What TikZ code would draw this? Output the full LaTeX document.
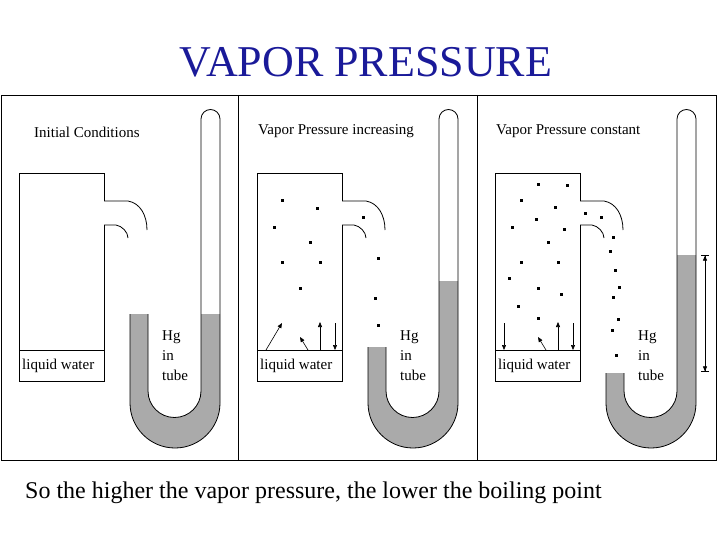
\documentclass[tikz,border=0pt]{standalone}
\usepackage{fontspec}
\setmainfont{Liberation Serif}
\usetikzlibrary{arrows.meta}
\definecolor{hg}{HTML}{AAAAAA}
\definecolor{ttl}{HTML}{1A1A99}
\newcommand\apparatus[4]{%
\begin{scope}[xshift=#1pt]
\fill[hg] (130,#2) -- (130,403) arc[start angle=180,end angle=0,radius=45] -- (220,#3) -- (201,#3) -- (201,391) arc[start angle=0,end angle=180,radius=26.5] -- (148,#2) -- cycle;
\draw[line] (130,#2) -- (130,403) arc[start angle=180,end angle=0,radius=45] -- (220,119) arc[start angle=0,end angle=-180,radius=9.5] -- (201,391) arc[start angle=0,end angle=180,radius=26.5] -- (148,#2);
\draw[line] (104,201) -- (104,173) -- (19,173) -- (19,381) -- (104,381) -- (104,225);
\draw[line] (19,350) -- (104,350);
\draw[line] (104,201) -- (128,201) .. controls (140,203) and (147,215) .. (147,230);
\draw[line] (104,225) -- (116,225) .. controls (122,226) and (128,232) .. (128,238);
\node[lbl] (lw#4) at (22,366) {liquid water};
\node[lbl,align=left,font=\fontsize{15}{20}\selectfont] (hg#4) at (162,356) {Hg\\in\\tube};
\end{scope}}
\begin{document}
\begin{tikzpicture}[x=1pt,y=-1pt,
  line/.style={black,line width=0.8pt},
  lbl/.style={anchor=west,font=\fontsize{15}{16}\selectfont,inner sep=0pt},
  dot/.style={fill=black,minimum size=3pt,inner sep=0pt,rectangle},
  arr/.style={line width=0.6pt,-{Triangle[length=5pt,width=4pt]}}]
\useasboundingbox (0,0) rectangle (720,540);
\node[text=ttl,font=\fontsize{44}{46}\selectfont] (title) at (366,62) {VAPOR PRESSURE};
\draw[line] (1,95) rectangle (716,460);
\draw[line] (238,95) -- (238,460);
\draw[line] (477,95) -- (477,460);
\apparatus{0}{314}{314}{a}
\apparatus{238}{347}{281}{b}
\apparatus{476}{373}{255}{c}
\node[lbl] (t1) at (34,132) {Initial Conditions};
\node[lbl] (t2) at (258,131) {Vapor Pressure increasing};
\node[lbl] (t3) at (496,131) {Vapor Pressure constant};
% panel 2 dots
\foreach \p [count=\i] in {(282,201),(317,209),(274,228),(310,242),(282,262),(320,262),(300,288),(363,218),(378,258),(375,298),(378,325)}
  \node[dot] (db\i) at \p {};
% panel 3 dots
\foreach \p [count=\i] in {(538,185),(567,186),(521,201),(555,208),(536,220),(512,228),(564,230),(548,242),(521,262),(558,262),(509,278),(538,288),(561,294),(518,306),(538,318),(585,214),(601,218),(613,237),(610,251),(615,270),(619,287),(613,297),(618,319),(612,330),(616,355)}
  \node[dot] (dc\i) at \p {};
% panel 2 arrows
\coordinate (b1s) at (266,350); \coordinate (b1e) at (282,323);
\coordinate (b2s) at (308,350); \coordinate (b2e) at (300,337);
\coordinate (b3s) at (320,350); \coordinate (b3e) at (320,322);
\coordinate (b4s) at (335,323); \coordinate (b4e) at (335,350);
\draw[arr] (b1s) -- (b1e);
\draw[arr] (b2s) -- (b2e);
\draw[arr] (b3s) -- (b3e);
\draw[arr] (b4s) -- (b4e);
% panel 3 arrows
\coordinate (c1s) at (504,323); \coordinate (c1e) at (504,350);
\coordinate (c2s) at (546,350); \coordinate (c2e) at (538,337);
\coordinate (c3s) at (558,350); \coordinate (c3e) at (558,322);
\coordinate (c4s) at (573,323); \coordinate (c4e) at (573,350);
\draw[arr] (c1s) -- (c1e);
\draw[arr] (c2s) -- (c2e);
\draw[arr] (c3s) -- (c3e);
\draw[arr] (c4s) -- (c4e);
% height marker
\coordinate (h1) at (705,255); \coordinate (h2) at (705,372);
\draw[line width=0.6pt,{Bar[width=8pt]Triangle[length=5pt,width=4pt]}-{Triangle[length=5pt,width=4pt]Bar[width=8pt]}] (h1) -- (h2);
\node[anchor=west,font=\fontsize{24}{26}\selectfont,inner sep=0pt] (bottom) at (25,493) {So the higher the vapor pressure, the lower the boiling point};
\end{tikzpicture}
\end{document}
